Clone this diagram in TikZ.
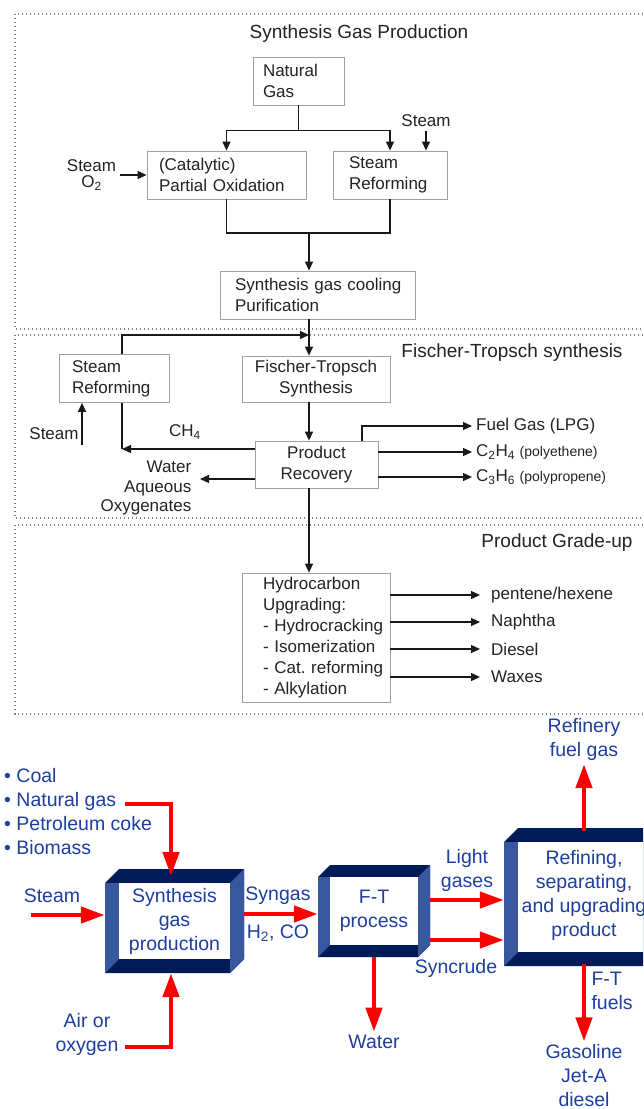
\documentclass[tikz,border=0pt]{standalone}
\usepackage{fontspec}
\setmainfont{Liberation Sans}
\usetikzlibrary{arrows.meta}

\definecolor{txtgray}{RGB}{35,35,35}
\definecolor{boxgray}{RGB}{160,160,160}
\definecolor{arrgray}{RGB}{25,25,25}
\definecolor{dotgray}{RGB}{130,130,130}
\definecolor{bluetxt}{RGB}{30,62,160}
\definecolor{navy}{RGB}{0,27,87}
\definecolor{sideblue}{RGB}{55,88,158}
\definecolor{arrred}{RGB}{255,0,0}

\hyphenpenalty=10000
\exhyphenpenalty=10000
\hbadness=10000
\hfuzz=40pt

\newcommand{\boxfont}{\fontsize{17}{21}\selectfont}
\newcommand{\titlefont}{\fontsize{19}{23}\selectfont}
\newcommand{\bluefont}{\fontsize{19.5}{24}\selectfont}

% open 3d frame: x0, y0, x1, y1, depth
\newcommand{\slabbox}[5]{%
  \fill[navy] (#1,#2+#5) -- (#1+#5,#2) -- (#3,#2) -- (#3,#4-#5) -- (#3-#5,#4) -- (#1,#4) -- cycle;
  \fill[sideblue] (#1,#2+#5) -- (#1+#5,#2+#5) -- (#1+#5,#4-#5) -- (#1,#4) -- cycle;
  \fill[sideblue] (#3-#5,#2+#5) -- (#3,#2) -- (#3,#4-#5) -- (#3-#5,#4) -- cycle;
  \fill[white] (#1+#5,#2+#5) rectangle (#3-#5,#4-#5);
}

\begin{document}
\begin{tikzpicture}[x=1pt, y=-1pt,
  secframe/.style={draw=dotgray, line width=1.2pt, dash pattern=on 1.2pt off 2.8pt},
  pbox/.style={draw=boxgray, line width=0.8pt, font=\boxfont, text=txtgray, minimum height=48pt},
  ptext/.style={font=\boxfont, text=txtgray},
  ptitle/.style={font=\titlefont, text=txtgray},
  pline/.style={draw=arrgray, line width=1.3pt},
  parrow/.style={pline, -{Triangle[length=9pt,width=8pt]}},
  btext/.style={font=\bluefont, text=bluetxt, align=center},
  redarrow/.style={draw=arrred, line width=4.5pt, -{Triangle[length=24pt,width=16pt]}}
]
  \useasboundingbox (0,0) rectangle (643,1109);
  \clip (0,0) rectangle (643,1109);
  \fill[white] (0,0) rectangle (643,1109);

  % Synthesis gas production
  \draw[secframe] (15,14) rectangle (700,329);
  \node[ptitle] (t1) at (359,34) {Synthesis Gas Production};
  \node[pbox, align=left, text width=71pt, inner xsep=10pt] (ng) at (298.5,81) {Natural\\Gas};
  \node[pbox, align=left, text width=135pt, inner xsep=12pt] (pox) at (226.5,175) {(Catalytic)\\Partial Oxidation};
  \node[pbox, align=left, text width=82pt, inner xsep=16pt] (sr) at (390,175) {Steam\\Reforming};
  \node[pbox, align=left, text width=165pt, inner xsep=15pt] (cool) at (317.5,295) {Synthesis~gas~cooling\\Purification};
  \node[ptext] (steamsr) at (426,121) {Steam};
  \node[ptext, align=center, font=\fontsize{17}{16}\selectfont] (steamox) at (91.5,175) {Steam\\O\textsubscript{2}};
  \draw[pline] (ng.south) -- ++(0,25) coordinate (split);
  \draw[parrow] (split) -| (pox.north);
  \draw[parrow] (split) -| (sr.north);
  \draw[parrow] (steamsr.south) -- (steamsr.south |- sr.north);
  \draw[parrow] (steamox.east) -- (steamox.east -| pox.west);
  \coordinate (mergept) at (309,233);
  \draw[pline] (pox.south) |- (mergept) -| (sr.south);
  \draw[parrow] (mergept) -- (mergept |- cool.north);

  % Fischer-Tropsch synthesis
  \draw[secframe] (15,335) rectangle (700,518);
  \node[ptitle] (t2) at (512,353) {Fischer-Tropsch synthesis};
  \node[pbox, align=left, text width=84pt, inner xsep=13pt] (sr2) at (114,378.5) {Steam\\Reforming};
  \node[pbox, align=center, minimum width=148pt, minimum height=46pt] (ft) at (316,379) {Fischer-Tropsch\\Synthesis};
  \node[pbox, align=center, minimum width=123pt, minimum height=47pt] (pr) at (316.5,464.5) {Product\\Recovery};
  \node[ptext] (steam2) at (54,434) {Steam};
  \node[ptext] (ch4) at (185,432) {CH\textsubscript{4}};
  \node[ptext, align=right, anchor=east, inner xsep=8.5pt, font=\fontsize{17}{19.5}\selectfont] (water) at (200,488) {Water\\Aqueous\\Oxygenates};
  \node[ptext, anchor=west, inner xsep=4pt] (fuelgas) at (472,426) {Fuel Gas (LPG)};
  \node[ptext, anchor=west, inner xsep=4pt] (ethene) at (472,452) {C\textsubscript{2}H\textsubscript{4} {\fontsize{14}{16}\selectfont(polyethene)}};
  \node[ptext, anchor=west, inner xsep=4pt] (propene) at (472,477) {C\textsubscript{3}H\textsubscript{6} {\fontsize{14}{16}\selectfont(polypropene)}};
  \draw[parrow] (mergept |- cool.south) -- (mergept |- ft.north);
  \coordinate (sr2top) at ([xshift=8pt]sr2.north);
  \coordinate (join) at (309,335);
  \draw[parrow] (sr2top) |- (join);
  \draw[parrow] (mergept |- ft.south) -- (mergept |- pr.north);
  \coordinate (steamtail2) at (82,445);
  \draw[parrow] (steamtail2) -- (steamtail2 |- sr2.south);
  \path ([yshift=15.5pt]pr.west) coordinate (ch4start);
  \draw[parrow] (ch4start) -- (ch4start -| sr2top);
  \draw[pline] (ch4start -| sr2top) -- (sr2top |- sr2.south);
  \path ([yshift=-14.5pt]pr.west) coordinate (wstart);
  \draw[parrow] (wstart) -- (wstart -| water.east);
  \draw[parrow] ([xshift=45.5pt]pr.north) |- (fuelgas.west);
  \path ([yshift=12.5pt]pr.east) coordinate (e1);
  \draw[parrow] (e1) -- (e1 -| ethene.west);
  \path ([yshift=-12.5pt]pr.east) coordinate (e2);
  \draw[parrow] (e2) -- (e2 -| propene.west);

  % Product grade-up
  \draw[secframe] (15,525) rectangle (700,714);
  \node[ptitle] (t3) at (557,543) {Product Grade-up};
  \node[pbox, align=left, text width=106pt, inner xsep=21pt, minimum height=129pt] (hc) at (316,637.5)
    {Hydrocarbon\\Upgrading:\\-~Hydrocracking\\-~Isomerization\\-~Cat.~reforming\\-~Alkylation};
  \node[ptext, anchor=west, inner xsep=11pt] (pent) at (480,595) {pentene/hexene};
  \node[ptext, anchor=west, inner xsep=11pt] (naph) at (480,622) {Naphtha};
  \node[ptext, anchor=west, inner xsep=11pt] (dies) at (480,649) {Diesel};
  \node[ptext, anchor=west, inner xsep=11pt] (wax) at (480,677) {Waxes};
  \draw[parrow] (mergept |- pr.south) -- (mergept |- hc.north);
  \path ([yshift=42.5pt]hc.east) coordinate (h1);
  \draw[parrow] (h1) -- (h1 -| pent.west);
  \path ([yshift=15.5pt]hc.east) coordinate (h2);
  \draw[parrow] (h2) -- (h2 -| naph.west);
  \path ([yshift=-11.5pt]hc.east) coordinate (h3);
  \draw[parrow] (h3) -- (h3 -| dies.west);
  \path ([yshift=-39.5pt]hc.east) coordinate (h4);
  \draw[parrow] (h4) -- (h4 -| wax.west);

  % F-T process flow
  \slabbox{105}{869}{244}{973}{14}
  \slabbox{318}{865}{430}{957}{12}
  \slabbox{504}{828}{664}{966}{14}
  \node[btext, minimum width=139pt, minimum height=104pt] (sgp) at (174.5,921) {Synthesis\\gas\\production};
  \node[btext, minimum width=112pt, minimum height=92pt] (ftp) at (374,911) {F-T\\process};
  \node[btext, minimum width=160pt, minimum height=138pt] (ref) at (584,895) {Refining,\\separating,\\and upgrading\\product};
  \node[btext, align=left, anchor=west, inner xsep=0pt] (feeds) at (4,811.5) {• Coal\\• Natural gas\\• Petroleum coke\\• Biomass};
  \node[btext] (steamin) at (52,896) {Steam};
  \node[btext] (air) at (87,1034) {Air or\\oxygen};
  \node[btext] (syngas) at (278,896) {Syngas};
  \node[btext] (h2co) at (278,933) {H\textsubscript{2}, CO};
  \node[btext] (light) at (467,870.5) {Light\\gases};
  \node[btext] (syncrude) at (456,968) {Syncrude};
  \node[btext] (water2) at (374,1042) {Water};
  \node[btext] (fuelref) at (584,739.5) {Refinery\\fuel gas};
  \node[btext, align=left, anchor=west] (ftfuels) at (588,990.5) {F-T\\fuels};
  \node[btext] (products) at (584,1076) {Gasoline\\Jet-A\\diesel};
  \coordinate (ngtail) at (125,804);
  \coordinate (ngtip) at (171,876);
  \draw[redarrow] (ngtail) -| (ngtip);
  \coordinate (steamtail) at (31,915);
  \draw[redarrow] (steamtail) -- (steamtail -| sgp.west);
  \coordinate (airtail) at (125,1047);
  \draw[redarrow] (airtail) -| (ngtip |- sgp.south);
  \path ([yshift=7pt]sgp.east) coordinate (sg1);
  \draw[redarrow] (sg1) -- (sg1 -| ftp.west);
  \path ([yshift=11pt]ftp.east) coordinate (lg1);
  \draw[redarrow] (lg1) -- (lg1 -| ref.west);
  \path ([yshift=-29pt]ftp.east) coordinate (sc1);
  \draw[redarrow] (sc1) -- (sc1 -| ref.west);
  \draw[redarrow] (ftp.south) -- (water2.north);
  \path ([yshift=-5pt]ref.north) coordinate (rf1);
  \draw[redarrow] (rf1) -- (rf1 |- fuelref.south);
  \draw[redarrow] (ref.south) -- (ref.south |- products.north);
\end{tikzpicture}
\end{document}
